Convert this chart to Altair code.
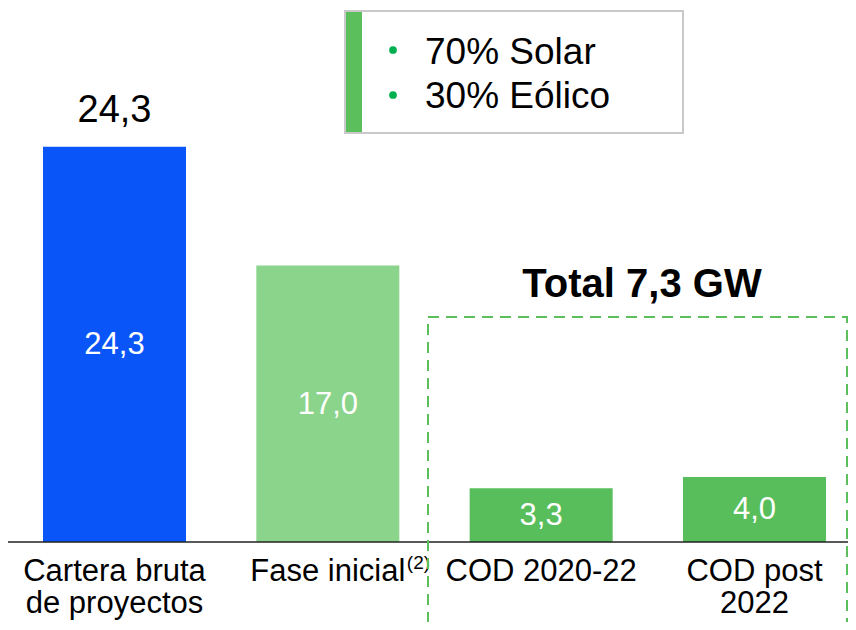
import altair as alt
import pandas as pd

# Data
cats = ["Cartera bruta de proyectos", "Fase inicial", "COD 2020-22", "COD post 2022"]
values = [24.3, 17.0, 3.3, 4.0]
value_labels = ["24,3", "17,0", "3,3", "4,0"]
axis_labels = ["Cartera bruta\nde proyectos", "Fase inicial", "COD 2020-22", "COD post\n2022"]
colors = ["#0A55F8", "#8BD48B", "#57BE5B", "#57BE5B"]
legend_items = ["70% Solar", "30% Eólico"]
title_text = "Total 7,3 GW"
top_label = "24,3"
superscript = "(2)"

FONT = "Liberation Sans"

df = pd.DataFrame({
    "cat": cats,
    "idx": list(range(len(cats))),
    "value": values,
    "mid": [v / 2 for v in values],
    "vlabel": value_labels,
    "alabel": axis_labels,
    "color": colors,
})

W, H = 840, 534
x_scale = alt.Scale(domain=[-0.4992, 3.4383], nice=False, zero=False, padding=0)
y_scale = alt.Scale(domain=[0, 32.84], nice=False, zero=True)

X = alt.X("idx:Q", scale=x_scale, axis=None)

base = alt.Chart(df)

bars = base.mark_bar(width=143).encode(
    x=X,
    y=alt.Y("value:Q", scale=y_scale, axis=None),
    color=alt.Color("color:N", scale=None),
)

inner = base.mark_text(font=FONT, fontSize=31, color="white", baseline="middle", dy=1).encode(
    x=X,
    y=alt.Y("mid:Q", scale=y_scale, axis=None),
    text="vlabel:N",
)

top = base.transform_filter(alt.datum.idx == 0).mark_text(
    font=FONT, fontSize=38, color="black", baseline="alphabetic", dy=-25
).encode(
    x=X,
    y=alt.Y("value:Q", scale=y_scale, axis=None),
    text=alt.value(top_label),
)

axis_text = base.mark_text(
    font=FONT, fontSize=31, color="black", baseline="alphabetic", lineBreak="\n", lineHeight=32
).encode(
    x=X,
    y=alt.value(573),
    text="alabel:N",
)

sup = base.transform_filter(alt.datum.idx == 1).mark_text(
    font=FONT, fontSize=19, color="black", baseline="alphabetic", align="left", xOffset=79
).encode(
    x=X,
    y=alt.value(561),
    text=alt.value(superscript),
)

baseline_rule = alt.Chart(pd.DataFrame({"v": [0]})).mark_rule(color="#222222", strokeWidth=1.5).encode(
    y=alt.Y("v:Q", scale=y_scale, axis=None),
    x=alt.value(0),
    x2=alt.value(W),
)

# dashed box around COD columns
dash_box = alt.Chart(pd.DataFrame({"v": [0]})).mark_rect(
    fillOpacity=0, stroke="#5BBF5B", strokeWidth=2, strokeDash=[11, 7]
).encode(
    x=alt.value(420), x2=alt.value(839),
    y=alt.value(309), y2=alt.value(700),
)

title = alt.Chart(pd.DataFrame({"t": [title_text]})).mark_text(
    font=FONT, fontSize=40, fontWeight="bold", color="black", baseline="alphabetic", align="center"
).encode(
    x=alt.value(634), y=alt.value(289), text="t:N"
)

# legend box
leg_box = alt.Chart(pd.DataFrame({"v": [0]})).mark_rect(
    fill="white", stroke="#C9C9C9", strokeWidth=2
).encode(
    x=alt.value(337), x2=alt.value(675), y=alt.value(3), y2=alt.value(125)
)
leg_stripe = alt.Chart(pd.DataFrame({"v": [0]})).mark_rect(fill="#5BBF5B").encode(
    x=alt.value(338), x2=alt.value(354), y=alt.value(4), y2=alt.value(124)
)
leg_df = pd.DataFrame({"t": legend_items, "i": [0, 1]})
leg_dots = alt.Chart(leg_df).mark_circle(color="#00B050", opacity=1, size=60).encode(
    x=alt.value(385),
    y=alt.Y("i:Q", scale=alt.Scale(domain=[0, 1], range=[42, 87]), axis=None),
)
leg_text = alt.Chart(leg_df).mark_text(
    font=FONT, fontSize=37, color="black", align="left", baseline="alphabetic"
).encode(
    x=alt.value(417),
    y=alt.Y("i:Q", scale=alt.Scale(domain=[0, 1], range=[56, 100]), axis=None),
    text="t:N",
)

chart = alt.layer(
    bars, inner, top, axis_text, sup, baseline_rule, dash_box, title,
    leg_box, leg_stripe, leg_dots, leg_text
).resolve_scale(y="independent").properties(
    width=W, height=H,
    autosize=alt.AutoSizeParams(type="none"),
    padding={"left": 0, "top": 0, "right": 0, "bottom": 80},
).configure_view(stroke=None)

chart.save("out.html", embed_options={"renderer": "svg", "actions": False})
